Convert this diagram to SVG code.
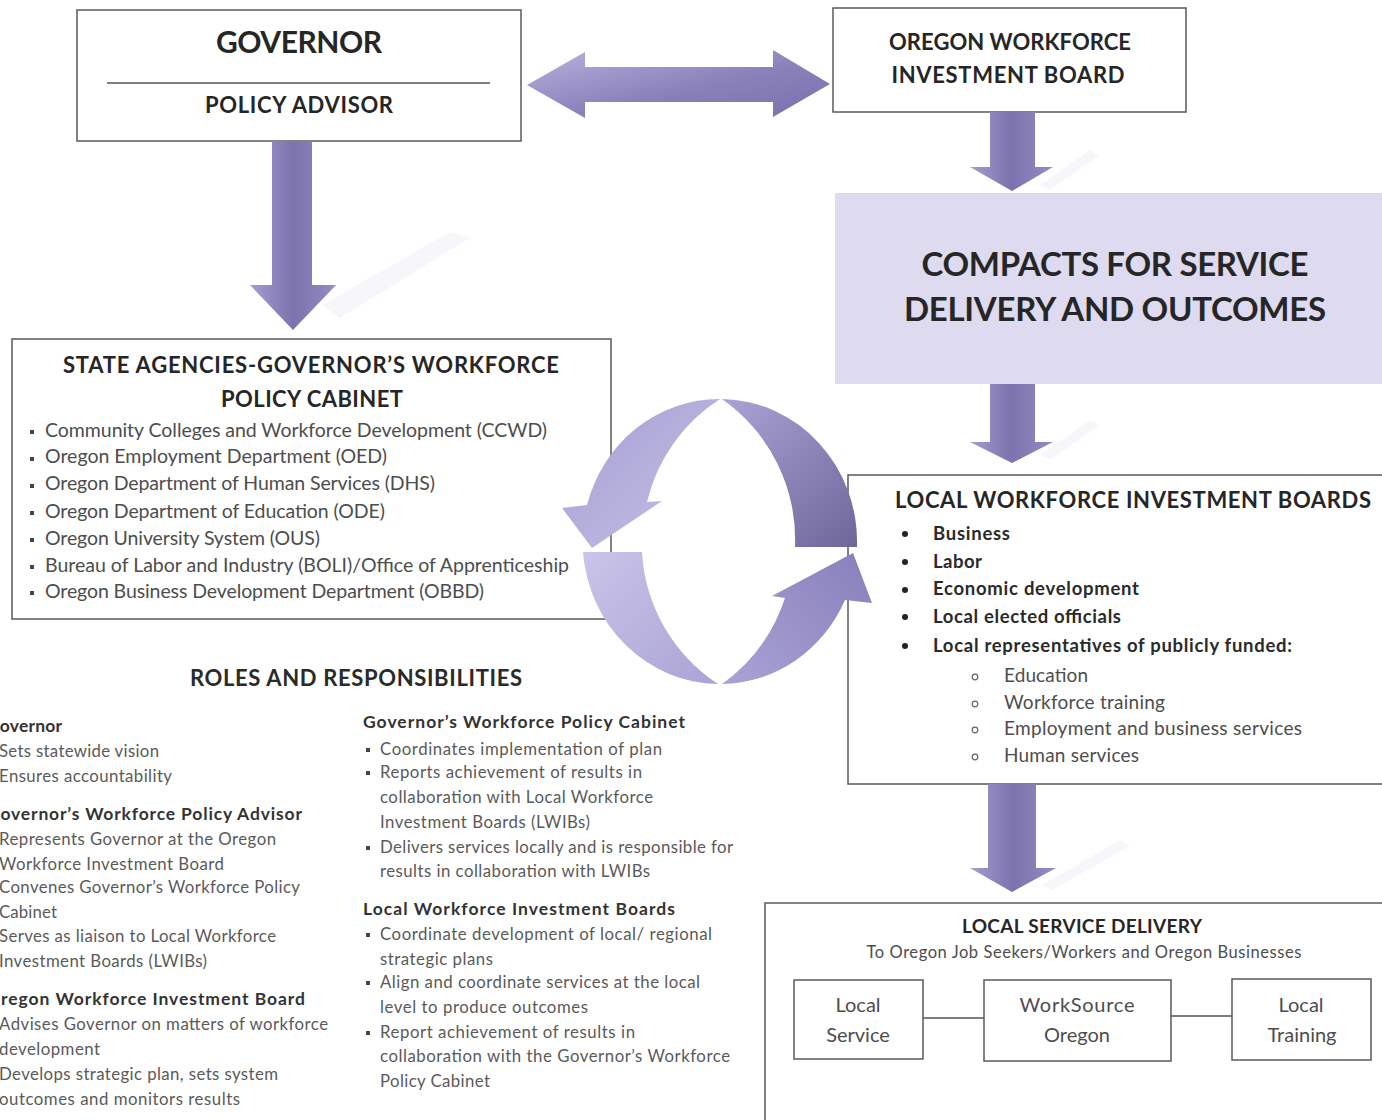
<svg xmlns="http://www.w3.org/2000/svg" width="1382" height="1120" viewBox="0 0 1382 1120">
<defs>
<style>
text{font-family:Lato,"Liberation Sans",Arial,sans-serif}
.bx{fill:#fff;stroke:#5a5a5a;stroke-width:1.5}
.hd{font-weight:bold;fill:#262626}
.tb{font-weight:bold;fill:#2a2a2a}
.bd{fill:#4d4d4d}
.rb{fill:#5a5a5a;font-size:16.8px}
.rh{font-weight:bold;fill:#333;font-size:17.5px}
.ln{stroke:#555;stroke-width:1.5;fill:none}
.sh{fill:#f2f0f8;opacity:0.6}
</style>
<linearGradient id="gv" x1="0" y1="0" x2="1" y2="0">
<stop offset="0" stop-color="#a59dd0"/><stop offset="0.5" stop-color="#7c72ad"/><stop offset="1" stop-color="#958dc4"/>
</linearGradient>
<linearGradient id="gh" x1="0" y1="0" x2="1" y2="1">
<stop offset="0" stop-color="#b9b2de"/><stop offset="0.55" stop-color="#8a81bb"/><stop offset="1" stop-color="#7a70ac"/>
</linearGradient>
<linearGradient id="gtl" gradientUnits="userSpaceOnUse" x1="580" y1="400" x2="720" y2="540">
<stop offset="0" stop-color="#a8a1d3"/><stop offset="1" stop-color="#c4bfe6"/>
</linearGradient>
<linearGradient id="gtr" gradientUnits="userSpaceOnUse" x1="720" y1="400" x2="860" y2="550">
<stop offset="0" stop-color="#aaa3d4"/><stop offset="1" stop-color="#6e6498"/>
</linearGradient>
<linearGradient id="gbl" gradientUnits="userSpaceOnUse" x1="583" y1="552" x2="720" y2="684">
<stop offset="0" stop-color="#c9c4e8"/><stop offset="1" stop-color="#aaa3d5"/>
</linearGradient>
<linearGradient id="gbr" gradientUnits="userSpaceOnUse" x1="720" y1="684" x2="860" y2="560">
<stop offset="0" stop-color="#aaa3d5"/><stop offset="1" stop-color="#8a82bc"/>
</linearGradient>
</defs>
<rect width="1382" height="1120" fill="#fff"/>

<g id="governor">
<rect class="bx" x="77" y="10" width="444" height="131"/>
<line class="ln" x1="107" y1="83" x2="490" y2="83"/>
<text class="hd" x="299" y="53" text-anchor="middle" font-size="30" textLength="166">GOVERNOR</text>
<text class="hd" x="299" y="113" text-anchor="middle" font-size="22" textLength="188">POLICY ADVISOR</text>
</g>

<g id="owib">
<rect class="bx" x="833" y="8" width="353" height="104"/>
<text class="hd" x="1010" y="50" text-anchor="middle" font-size="22" textLength="242">OREGON WORKFORCE</text>
<text class="hd" x="1008" y="83" text-anchor="middle" font-size="22" textLength="233">INVESTMENT BOARD</text>
</g>

<g id="compacts">
<rect x="835" y="193" width="547" height="191" fill="#dedaef"/>
<text class="hd" x="1115" y="276" text-anchor="middle" font-size="33" textLength="387">COMPACTS FOR SERVICE</text>
<text class="hd" x="1115" y="321" text-anchor="middle" font-size="33" textLength="422">DELIVERY AND OUTCOMES</text>
</g>

<g id="state-agencies">
<rect class="bx" x="12" y="339" width="599" height="280"/>
<text class="hd" x="311" y="373" text-anchor="middle" font-size="22" textLength="496">STATE AGENCIES-GOVERNOR’S WORKFORCE</text>
<text class="hd" x="312" y="407" text-anchor="middle" font-size="22" textLength="182">POLICY CABINET</text>
<g fill="#444">
<rect x="30" y="430" width="4" height="4"/><rect x="30" y="457" width="4" height="4"/><rect x="30" y="484" width="4" height="4"/><rect x="30" y="511" width="4" height="4"/><rect x="30" y="538" width="4" height="4"/><rect x="30" y="565" width="4" height="4"/><rect x="30" y="591" width="4" height="4"/>
</g>
<g class="bd" font-size="19.5">
<text x="45" y="437" textLength="502">Community Colleges and Workforce Development (CCWD)</text>
<text x="45" y="463" textLength="342">Oregon Employment Department (OED)</text>
<text x="45" y="490" textLength="390">Oregon Department of Human Services (DHS)</text>
<text x="45" y="518" textLength="340">Oregon Department of Education (ODE)</text>
<text x="45" y="545" textLength="275">Oregon University System (OUS)</text>
<text x="45" y="572" textLength="524">Bureau of Labor and Industry (BOLI)/Office of Apprenticeship</text>
<text x="45" y="598" textLength="439">Oregon Business Development Department (OBBD)</text>
</g>
</g>

<g id="local-boards">
<rect class="bx" x="848" y="475" width="545" height="309"/>
<text class="hd" x="895" y="508" font-size="22" textLength="476">LOCAL WORKFORCE INVESTMENT BOARDS</text>
<g fill="#222">
<circle cx="905" cy="534" r="3"/><circle cx="905" cy="562" r="3"/><circle cx="905" cy="590" r="3"/><circle cx="905" cy="617" r="3"/><circle cx="905" cy="646" r="3"/>
</g>
<g class="tb" font-size="18.5">
<text x="933" y="540" textLength="77">Business</text>
<text x="933" y="568" textLength="49">Labor</text>
<text x="933" y="595" textLength="206">Economic development</text>
<text x="933" y="623" textLength="188">Local elected officials</text>
<text x="933" y="652" textLength="359">Local representatives of publicly funded:</text>
</g>
<g fill="none" stroke="#666" stroke-width="1.2">
<circle cx="975" cy="677" r="2.8"/><circle cx="975" cy="704" r="2.8"/><circle cx="975" cy="730" r="2.8"/><circle cx="975" cy="757" r="2.8"/>
</g>
<g class="bd" font-size="19">
<text x="1004" y="682" textLength="84">Education</text>
<text x="1004" y="709" textLength="161">Workforce training</text>
<text x="1004" y="735" textLength="298">Employment and business services</text>
<text x="1004" y="762" textLength="135">Human services</text>
</g>
</g>

<g id="local-service-delivery">
<rect class="bx" x="765" y="903" width="630" height="230"/>
<text class="hd" x="1082" y="933" text-anchor="middle" font-size="19" textLength="240">LOCAL SERVICE DELIVERY</text>
<text class="bd" x="1084" y="958" text-anchor="middle" font-size="16.5" textLength="435">To Oregon Job Seekers/Workers and Oregon Businesses</text>
<line class="ln" x1="923" y1="1018" x2="984" y2="1018"/>
<line class="ln" x1="1171" y1="1016" x2="1232" y2="1016"/>
<g id="local-service">
<rect class="bx" x="794" y="980" width="129" height="79"/>
<text class="bd" x="858" y="1012" text-anchor="middle" font-size="20">Local</text>
<text class="bd" x="858" y="1042" text-anchor="middle" font-size="20">Service</text>
</g>
<g id="worksource">
<rect class="bx" x="984" y="980" width="187" height="81"/>
<text class="bd" x="1077" y="1012" text-anchor="middle" font-size="20" textLength="115">WorkSource</text>
<text class="bd" x="1077" y="1042" text-anchor="middle" font-size="20">Oregon</text>
</g>
<g id="local-training">
<rect class="bx" x="1232" y="979" width="139" height="81"/>
<text class="bd" x="1301" y="1012" text-anchor="middle" font-size="20">Local</text>
<text class="bd" x="1302" y="1042" text-anchor="middle" font-size="20">Training</text>
</g>
</g>

<g id="roles">
<text x="356" y="686" text-anchor="middle" font-size="22" font-weight="bold" fill="#2a2a2a" textLength="332">ROLES AND RESPONSIBILITIES</text>
<text class="rh" x="-13" y="732" textLength="75">Governor</text>
<text class="rb" x="-1" y="757" textLength="160">Sets statewide vision</text>
<text class="rb" x="-1" y="782" textLength="173">Ensures accountability</text>
<text class="rh" x="-13" y="820" textLength="315">Governor’s Workforce Policy Advisor</text>
<text class="rb" x="-1" y="845" textLength="277">Represents Governor at the Oregon</text>
<text class="rb" x="-1" y="870" textLength="225">Workforce Investment Board</text>
<text class="rb" x="-1" y="893" textLength="301">Convenes Governor’s Workforce Policy</text>
<text class="rb" x="-1" y="918" textLength="58">Cabinet</text>
<text class="rb" x="-1" y="942" textLength="277">Serves as liaison to Local Workforce</text>
<text class="rb" x="-1" y="967" textLength="208">Investment Boards (LWIBs)</text>
<text class="rh" x="-14" y="1005" textLength="319">Oregon Workforce Investment Board</text>
<text class="rb" x="-1" y="1030" textLength="329">Advises Governor on matters of workforce</text>
<text class="rb" x="-1" y="1055" textLength="101">development</text>
<text class="rb" x="-1" y="1080" textLength="279">Develops strategic plan, sets system</text>
<text class="rb" x="-1" y="1105" textLength="241">outcomes and monitors results</text>

<text class="rh" x="363" y="728" textLength="322">Governor’s Workforce Policy Cabinet</text>
<g fill="#444">
<rect x="366" y="748" width="4" height="4"/><rect x="366" y="771" width="4" height="4"/><rect x="366" y="846" width="4" height="4"/>
<rect x="366" y="933" width="4" height="4"/><rect x="366" y="981" width="4" height="4"/><rect x="366" y="1031" width="4" height="4"/>
</g>
<text class="rb" x="380" y="755" textLength="282">Coordinates implementation of plan</text>
<text class="rb" x="380" y="778" textLength="262">Reports achievement of results in</text>
<text class="rb" x="380" y="803" textLength="273">collaboration with Local Workforce</text>
<text class="rb" x="380" y="828" textLength="210">Investment Boards (LWIBs)</text>
<text class="rb" x="380" y="853" textLength="353">Delivers services locally and is responsible for</text>
<text class="rb" x="380" y="877" textLength="270">results in collaboration with LWIBs</text>
<text class="rh" x="363" y="915" textLength="312">Local Workforce Investment Boards</text>
<text class="rb" x="380" y="940" textLength="332">Coordinate development of local/ regional</text>
<text class="rb" x="380" y="965" textLength="113">strategic plans</text>
<text class="rb" x="380" y="988" textLength="320">Align and coordinate services at the local</text>
<text class="rb" x="380" y="1013" textLength="208">level to produce outcomes</text>
<text class="rb" x="380" y="1038" textLength="255">Report achievement of results in</text>
<text class="rb" x="380" y="1062" textLength="350">collaboration with the Governor’s Workforce</text>
<text class="rb" x="380" y="1087" textLength="110">Policy Cabinet</text>
</g>

<g id="connectors">
<polygon class="sh" points="322,305 450,232 470,238 340,318"/>
<polygon class="sh" points="1040,185 1090,150 1100,155 1050,190"/>
<polygon class="sh" points="1040,455 1090,420 1100,425 1050,460"/>
<polygon class="sh" points="1042,885 1120,840 1130,846 1052,890"/>
<polygon fill="url(#gh)" points="527,85 585,52 585,67 773,67 773,50 830,84 773,117 773,102 585,102 585,118"/>
<polygon fill="url(#gv)" points="272,141 312,141 312,285 336,285 293,330 250,285 272,285"/>
<polygon fill="url(#gv)" points="990,112 1035,112 1035,167 1053,167 1012,191 970,167 990,167"/>
<polygon fill="url(#gv)" points="990,384 1035,384 1035,442 1053,442 1012,463 970,442 990,442"/>
<polygon fill="url(#gv)" points="988,784 1036,784 1036,868 1056,868 1012,892 970,868 988,868"/>
<path fill="url(#gtl)" d="M720 399 A137 143 0 0 0 587 505 L562 508 L592 548 L662 501 L647 502 A168.3 168.3 0 0 1 720 399 Z"/>
<path fill="url(#gtr)" d="M722 399 A137 143 0 0 1 857 547 L795 547 A171.9 171.9 0 0 0 722 399 Z"/>
<path fill="url(#gbl)" d="M583 552 A137 143 0 0 0 718 684 A168.3 168.3 0 0 1 642 552 Z"/>
<path fill="url(#gbr)" d="M722 684 A137 143 0 0 0 845 600 L872 603 L853 553 L772 596 L785 598 A171.9 171.9 0 0 1 722 684 Z"/>
</g>
</svg>
